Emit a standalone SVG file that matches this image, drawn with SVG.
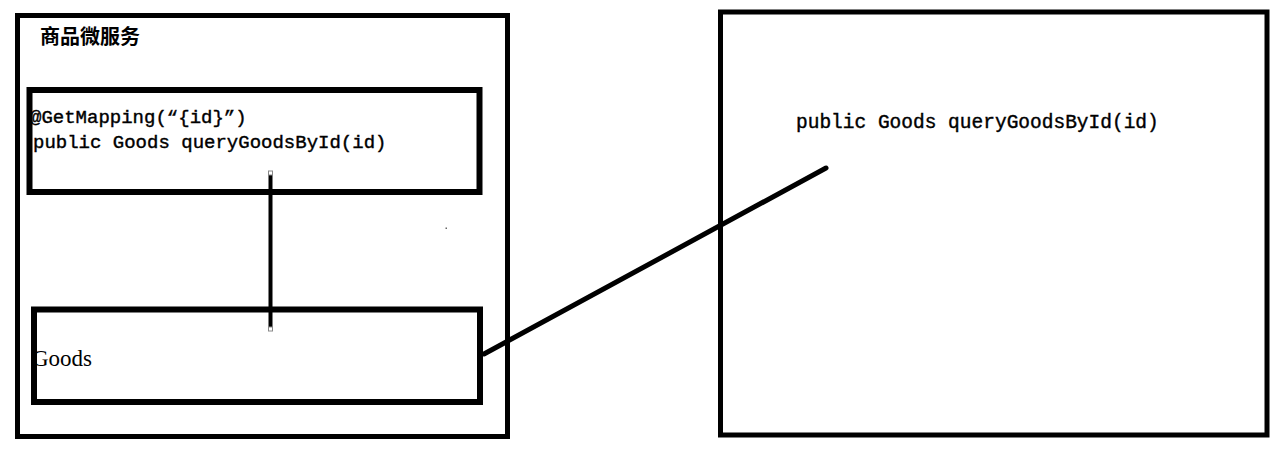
<svg xmlns="http://www.w3.org/2000/svg" width="1277" height="451" viewBox="0 0 1277 451">
<style>
.box{fill:none;stroke:#000;stroke-width:5}
.inner{fill:none;stroke:#000;stroke-width:6}
.code{font-family:"Liberation Mono","DejaVu Sans Mono",monospace;font-size:19px;fill:#000;stroke:#000;stroke-width:0.4}
.title{font-family:"Noto Sans CJK SC","Noto Sans",sans-serif;font-size:20px;font-weight:bold;fill:#000}
.serif{font-family:"Liberation Serif",serif;font-size:23px;fill:#000}
.conn{stroke:#000;fill:none;stroke-linecap:round}
.handle{fill:#fff;stroke:#888;stroke-width:1}
</style>
<rect width="1277" height="451" fill="#fff"/>
<g id="goods-service">
<rect class="box" x="17.5" y="15.5" width="490" height="421"/>
<text class="title" x="40" y="44">商品微服务</text>
</g>
<g id="controller">
<rect class="inner" x="29.5" y="90" width="450" height="102"/>
<text class="code" x="30" y="123">@GetMapping(“{id}”)</text>
<text class="code" x="33" y="148">public Goods queryGoodsById(id)</text>
</g>
<g id="goods">
<text class="serif" x="32" y="366">Goods</text>
<rect class="inner" x="34" y="309.5" width="446" height="92.5"/>
</g>
<g id="remote">
<rect class="box" x="720.5" y="12" width="546.5" height="423"/>
<text class="code" x="796" y="128" style="font-size:19.5px">public Goods queryGoodsById(id)</text>
</g>
<g id="connectors">
<line class="conn" x1="270.5" y1="173" x2="270.5" y2="330" style="stroke-width:4;stroke-linecap:butt"/>
<rect class="handle" x="268.5" y="171" width="4" height="4"/>
<rect class="handle" x="268.5" y="327" width="4" height="4"/>
<line class="conn" x1="484" y1="354" x2="826" y2="168" style="stroke-width:5"/>
</g>
<rect x="445.5" y="227.5" width="1.5" height="1.5" fill="#666"/>
</svg>
